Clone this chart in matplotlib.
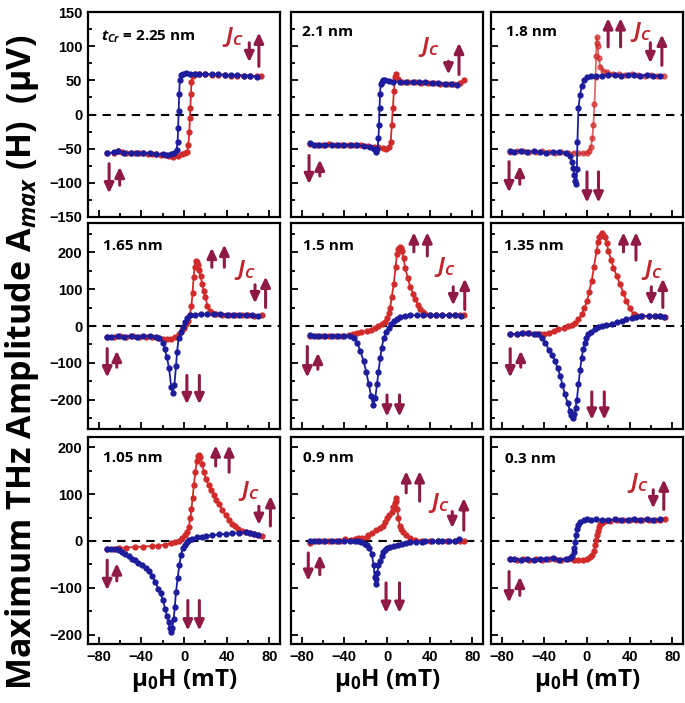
import numpy as np
import matplotlib
matplotlib.use("Agg")
import matplotlib.pyplot as plt
from matplotlib.ticker import MultipleLocator

plt.rcParams['font.family'] = ['Open Sans', 'DejaVu Sans']
plt.rcParams['mathtext.fontset'] = 'custom'
plt.rcParams['mathtext.rm'] = 'Open Sans:bold'
plt.rcParams['mathtext.it'] = 'Open Sans:italic:bold'
plt.rcParams['mathtext.bf'] = 'Open Sans:bold'

# ---- data: field (mT) and amplitude (uV); red = up sweep, blue = down sweep ----
labels = ['2.25 nm', '2.1 nm', '1.8 nm', '1.65 nm', '1.5 nm', '1.35 nm', '1.05 nm', '0.9 nm', '0.3 nm']

red_x_225 = [-72,-66,-62,-58,-54,-50,-46,-42,-38,-34,-30,-26,-22,-18,-14,-10,-6,-2,1,3,4,5,5.5,6,6.5,7,8,10,14,20,26,32,38,44,50,56,62,68,72]
red_y_225 = [-57,-56,-53,-55,-56,-57,-56,-57,-57,-58,-58,-58,-59,-59,-60,-62,-60,-58,-57,-55,-45,-25,-5,10,30,48,57,59,59,59,58,58,58,57,57,57,57,56,57]
blue_x_225 = [68,62,56,50,44,38,32,26,20,14,10,6,2,-1,-3,-4,-4.5,-5,-5.5,-6,-7,-9,-12,-16,-20,-26,-32,-38,-44,-50,-56,-62,-66,-72]
blue_y_225 = [55,57,57,58,58,58,59,59,59,60,60,60,61,60,58,50,30,5,-20,-40,-52,-57,-58,-59,-58,-58,-57,-56,-57,-56,-56,-53,-55,-57]

red_x_21 = [-72,-66,-60,-54,-48,-42,-36,-30,-24,-18,-12,-8,-4,-1,2,3.5,4.5,5.5,6.5,7.5,8.5,10,14,20,26,32,38,44,50,56,62,68,72]
red_y_21 = [-43,-45,-44,-43,-44,-45,-44,-45,-45,-46,-47,-48,-49,-50,-47,-40,-15,10,35,55,60,52,48,47,47,46,46,46,45,45,45,46,50]
blue_x_21 = [66,60,54,48,42,36,30,24,18,12,6,2,-2,-4,-5,-6,-6.5,-7,-7.5,-8,-9,-10,-12,-16,-22,-28,-34,-40,-46,-52,-58,-64,-68,-72]
blue_y_21 = [43,45,45,46,46,47,47,47,47,48,48,49,50,50,48,44,30,10,-15,-35,-50,-55,-50,-47,-46,-45,-45,-44,-45,-44,-45,-44,-45,-41]

red_x_18 = [-72,-66,-60,-54,-48,-42,-36,-30,-24,-18,-12,-8,-4,0,2,3.5,5,6,7,8,8.5,9,9.5,10,11,12.5,15,19,24,30,36,42,48,54,60,66,72]
red_y_18 = [-55,-54,-53,-55,-55,-54,-55,-56,-55,-56,-56,-57,-57,-56,-54,-48,-35,-15,15,55,85,105,113,100,82,70,64,62,60,59,58,59,58,57,58,57,57]
blue_x_18 = [68,62,56,50,44,38,32,26,20,14,8,4,0,-3,-5,-6.5,-8,-9,-9.5,-10,-11,-12,-13,-14,-16,-20,-26,-32,-38,-44,-50,-56,-62,-68,-72]
blue_y_18 = [56,57,58,57,58,58,57,58,58,57,57,56,55,50,42,28,10,-40,-80,-102,-98,-88,-78,-70,-60,-56,-55,-55,-56,-55,-54,-55,-53,-55,-54]

red_x_165 = [-72,-66,-60,-54,-48,-42,-36,-30,-24,-20,-16,-12,-8,-5,-2,0,2,4,5.5,7,8,9,10,11,12,13,14,15.5,17,18.5,20,22,24,26,30,36,42,48,54,60,66,73]
red_y_165 = [-29,-29,-28,-29,-28,-29,-29,-30,-32,-35,-35,-34,-30,-23,-12,-5,5,14,30,55,90,132,160,177,175,165,152,135,115,95,78,55,42,35,32,31,31,30,29,29,28,29]
blue_x_165 = [69,64,58,52,46,40,34,28,22,16,10,6,3,1,-1,-3,-5,-6.5,-7.5,-9,-10.5,-12,-14,-16,-18,-20,-23,-26,-32,-38,-44,-50,-56,-62,-68,-72]
blue_y_165 = [27,29,30,30,31,31,32,32,32,32,31,29,22,12,-2,-15,-32,-70,-110,-160,-182,-165,-115,-85,-62,-45,-32,-29,-28,-28,-29,-28,-29,-28,-29,-29]

red_x_15 = [-72,-66,-60,-54,-48,-42,-36,-32,-28,-24,-19,-15,-11,-8,-4.7,-2,0,1.5,3,4.5,6.3,8,9.4,10.7,12,13,14,15.5,17,19.5,22,24.5,26.6,29,31,33.5,36,40,46,52,58,64,68,72]
red_y_15 = [-27,-26,-27,-26,-27,-26,-25,-22,-18,-16,-14,-10,-5,0,5,12,23,35,50,80,114,160,195,210,215,212,205,185,159,130,105,88,73,58,45,38,32,30,29,29,30,29,29,29]
blue_x_15 = [69,64,58,52,46,40,34,28,22,17,12.5,9,6.3,4,1.6,-0.5,-3,-5,-6.3,-8,-9.4,-11,-13,-15,-17,-19.5,-22,-25,-28,-31,-34.5,-40,-46,-52,-58,-64,-68,-72]
blue_y_15 = [28,29,29,30,29,30,29,29,29,28,25,20,14,5,-5,-15,-32,-60,-86,-125,-159,-195,-214,-190,-159,-125,-95,-68,-45,-33,-27,-27,-26,-27,-26,-26,-27,-25]

red_x_135 = [-72,-66,-60,-54,-48,-44,-40,-36,-31,-27,-22,-17.6,-14,-11,-8,-5,-2.5,0,2,4.4,6.5,9,10.5,11.6,12.7,13.8,15,17,18.5,20,22.5,24.8,28,31,34,37,40,43.6,47,52,58,64,68,73]
red_y_135 = [-23,-22,-20,-18,-21,-23,-21,-18,-13,-9,-5,0,4,9,18,32,48,68,92,123,160,205,228,241,248,252,248,241,225,205,180,159,135,114,90,68,48,32,28,27,27,27,26,25]
blue_x_135 = [72,68,64,58,51,46,42,37,32.6,28,23,18,13.8,10,7.5,4,1.3,-0.5,-1.9,-3.5,-5,-6.5,-8,-9.5,-10.7,-12,-13.5,-15,-16,-18,-20.7,-23,-25,-27.5,-30,-33,-36,-39,-42.6,-46,-50,-55,-61,-66,-72]
blue_y_135 = [25,27,27,27,27,25,23,18,14,10,6,3,0,-4,-9,-15,-23,-32,-45,-62,-86,-120,-159,-200,-223,-240,-250,-242,-232,-210,-186,-160,-136,-115,-95,-78,-64,-45,-32,-23,-22,-20,-18,-21,-23]

red_x_105 = [-72,-66,-61,-54,-46,-38,-30,-24,-17.6,-12,-8,-5,-2,0.5,2.8,4.5,6,7,8,9.3,10.7,12,13,14.2,15.4,17,18.5,20.5,23,25.5,28,30,32.6,36,39,42,45,48,51,54,57.7,62,66,69,73]
red_y_105 = [-18,-17,-15,-14,-13,-12,-11,-10,-8,-5,-2,1,6,12,19,30,48,68,91,120,148,170,182,184,180,165,148,132,119,108,98,88,80,66,55,45,37,31,26,22,19,16,14,12,11]
blue_x_105 = [69.6,66,62,57.7,52,45,39,32.6,26,21,17,12,7.5,5,2.8,0.8,-1.3,-2.8,-4.4,-6,-7.5,-8.6,-9.7,-10.9,-12,-13.2,-14.4,-16,-17.6,-20,-22,-24,-27,-30,-33,-36,-39.5,-43,-46,-49,-52,-55,-58,-61,-64,-68,-72]
blue_y_105 = [12,15,18,19,17,16,15,14,12,10,9,8,5,2,-2,-8,-16,-30,-52,-80,-109,-140,-166,-185,-195,-186,-174,-160,-145,-125,-112,-102,-88,-74,-65,-58,-52,-46,-41,-38,-33,-28,-24,-20,-18,-17,-18]

red_x_09 = [-72,-66,-60,-54,-48,-44,-39.5,-34,-30,-27,-23,-19,-17.6,-14,-10,-7,-4,-2,0,2,4.4,6,7.2,8,8.8,9.6,10.7,12,13.5,15.4,18,21.6,26,32.6,40,48,56,64,68,72]
red_y_09 = [-4,-1,0,1,0,1,4,3,5,6,7,9,12,16,23,28,33,41,48,55,62,72,82,91,85,68,48,32,25,19,12,6,3,1,0,-1,0,-1,-1,-1]
blue_x_09 = [67.7,64,58,52,48,42,36,32.6,27,22,18,14,10.7,7,2.8,0,-2,-3.4,-5,-6.5,-8,-9,-10,-10.7,-11.5,-12.5,-14.4,-16.5,-18.5,-20.7,-24,-27,-30,-35,-40,-46,-52,-58,-64,-68,-72]
blue_y_09 = [4,1,0,1,-1,0,-1,-2,-3,-3,-4,-6,-9,-11,-13,-16,-20,-24,-32,-42,-52,-68,-82,-91,-78,-52,-27,-15,-9,-6,-3,0,1,0,1,0,1,0,0,1,1]

red_x_03 = [-72,-66,-60,-54,-48,-42,-36,-30,-24,-18,-12,-8,-4,0,2.5,4.7,6.3,7.8,8.6,9.4,10.2,11,12.5,14,17,22,28,34,40,46,52,58,64,68,72.7]
red_y_03 = [-39,-40,-39,-40,-39,-40,-39,-39,-40,-39,-40,-41,-40,-38,-35,-31,-22,-9,2,12,22,30,36,39,42,43,44,44,44,45,44,45,45,44,46]
blue_x_03 = [68,62,56,50,44,38,32,26,20,14,8,4,0,-3,-6.3,-8,-9.4,-10.3,-11,-11.8,-12.5,-14,-16,-20,-26,-32,-38,-44,-50,-56,-62,-68,-72]
blue_y_03 = [46,45,46,45,46,45,45,46,45,45,46,45,46,44,41,35,26,12,-2,-14,-24,-33,-37,-38,-40,-37,-39,-39,-40,-39,-40,-39,-38]

red_x = [red_x_225, red_x_21, red_x_18, red_x_165, red_x_15, red_x_135, red_x_105, red_x_09, red_x_03]
red_y = [red_y_225, red_y_21, red_y_18, red_y_165, red_y_15, red_y_135, red_y_105, red_y_09, red_y_03]
blue_x = [blue_x_225, blue_x_21, blue_x_18, blue_x_165, blue_x_15, blue_x_135, blue_x_105, blue_x_09, blue_x_03]
blue_y = [blue_y_225, blue_y_21, blue_y_18, blue_y_165, blue_y_15, blue_y_135, blue_y_105, blue_y_09, blue_y_03]

row_ylim = [(-150, 150), (-280, 280), (-220, 222)]
row_major = [50, 100, 100]
row_minor = [25, 50, 50]

RED = '#D12A2A'
BLUE = '#1C1C9C'
MAROON = '#8E1A45'
JRED = '#C0262D'

# arrow pairs and label spots per panel, in axes fraction
# (x, y_start, y_end)
arrows = [
    [(0.11, 0.26, 0.115), (0.165, 0.155, 0.245), (0.84, 0.85, 0.755), (0.89, 0.735, 0.90)],
    [(0.094, 0.30, 0.16), (0.15, 0.20, 0.28), (0.82, 0.76, 0.695), (0.875, 0.695, 0.85)],
    [(0.094, 0.27, 0.12), (0.15, 0.16, 0.25), (0.83, 0.85, 0.75), (0.89, 0.74, 0.89),
     (0.61, 0.83, 0.97), (0.675, 0.83, 0.97), (0.50, 0.22, 0.07), (0.56, 0.22, 0.07)],
    [(0.10, 0.39, 0.25), (0.15, 0.30, 0.38), (0.87, 0.70, 0.61), (0.925, 0.59, 0.74),
     (0.645, 0.785, 0.88), (0.71, 0.785, 0.895), (0.515, 0.26, 0.12), (0.58, 0.26, 0.12)],
    [(0.085, 0.40, 0.25), (0.14, 0.29, 0.37), (0.845, 0.69, 0.60), (0.905, 0.58, 0.73),
     (0.64, 0.86, 0.955), (0.71, 0.84, 0.955), (0.50, 0.165, 0.06), (0.565, 0.165, 0.06)],
    [(0.10, 0.39, 0.25), (0.155, 0.30, 0.38), (0.835, 0.69, 0.60), (0.895, 0.59, 0.73),
     (0.69, 0.86, 0.955), (0.755, 0.82, 0.955), (0.525, 0.18, 0.045), (0.59, 0.18, 0.045)],
    [(0.10, 0.405, 0.26), (0.15, 0.305, 0.39), (0.89, 0.665, 0.575), (0.95, 0.57, 0.715),
     (0.665, 0.86, 0.96), (0.735, 0.83, 0.96), (0.52, 0.21, 0.065), (0.58, 0.21, 0.065)],
    [(0.09, 0.44, 0.305), (0.15, 0.335, 0.43), (0.84, 0.64, 0.56), (0.90, 0.55, 0.705),
     (0.60, 0.73, 0.835), (0.67, 0.69, 0.835), (0.495, 0.295, 0.15), (0.565, 0.295, 0.15)],
    [(0.094, 0.35, 0.20), (0.15, 0.235, 0.325), (0.845, 0.745, 0.655), (0.90, 0.65, 0.795)],
]
label_pos = [(0.07, 0.88), (0.056, 0.90), (0.077, 0.90), (0.078, 0.89), (0.06, 0.89),
             (0.07, 0.89), (0.078, 0.90), (0.063, 0.90), (0.073, 0.895)]
jc_pos = [(0.70, 0.88), (0.66, 0.83), (0.725, 0.90), (0.76, 0.77), (0.745, 0.785),
          (0.78, 0.77), (0.78, 0.74), (0.715, 0.68), (0.71, 0.78)]

fig = plt.figure(figsize=(6.85, 7.03), dpi=100)
W, H = 685.0, 703.0
col_left = [88, 291, 491]
col_w = 192
row_top = [12, 223, 437]
row_h = [205, 206, 207]

tickfont = dict(family='Liberation Sans', weight='bold', size=10.5)

for i in range(9):
    r, c = divmod(i, 3)
    ax = fig.add_axes([col_left[c] / W, 1 - (row_top[r] + row_h[r]) / H, col_w / W, row_h[r] / H])
    ax.axhline(0, color='black', ls=(0, (4, 3)), lw=1.5, zorder=1)
    alpha_r = 0.7 if i == 2 else 1.0
    ax.plot(red_x[i], red_y[i], '-o', color=RED, ms=3.5, lw=1.3, alpha=alpha_r, zorder=2)
    ax.plot(blue_x[i], blue_y[i], '-o', color=BLUE, ms=3.5, lw=1.3, zorder=3)
    ax.set_xlim(-90, 90)
    ax.set_ylim(*row_ylim[r])
    ax.xaxis.set_major_locator(MultipleLocator(40))
    ax.xaxis.set_minor_locator(MultipleLocator(20))
    ax.yaxis.set_major_locator(MultipleLocator(row_major[r]))
    ax.yaxis.set_minor_locator(MultipleLocator(row_minor[r]))
    ax.tick_params(which='both', direction='in', width=1.3, top=False, right=False)
    ax.tick_params(which='major', length=5)
    ax.tick_params(which='minor', length=3)
    ax.tick_params(labelleft=(c == 0), labelbottom=(r == 2), pad=4)
    for lab in ax.get_xticklabels() + ax.get_yticklabels():
        lab.set_fontproperties(tickfont)
    for s in ax.spines.values():
        s.set_linewidth(1.6)

    txt = labels[i]
    if i == 0:
        txt = r'$t_{Cr}$ = ' + txt
    ax.text(label_pos[i][0], label_pos[i][1], txt, transform=ax.transAxes,
            fontsize=11, fontweight='bold', ha='left', va='center')
    ax.text(jc_pos[i][0], jc_pos[i][1], r'$J_C$', transform=ax.transAxes,
            fontsize=15, color=JRED, ha='left', va='center')
    for (ax_x, y0, y1) in arrows[i]:
        ax.annotate('', xy=(ax_x, y1), xytext=(ax_x, y0), xycoords='axes fraction',
                    arrowprops=dict(arrowstyle='-|>,head_length=0.6,head_width=0.28',
                                    lw=2.2, color=MAROON, shrinkA=0, shrinkB=0,
                                    mutation_scale=10))

for c in range(3):
    xc = (col_left[c] + col_w / 2) / W
    fig.text(xc, 1 - 680 / H, r'μ$_0$H (mT)', fontsize=17.5, fontweight='bold',
             ha='center', va='center')

fig.text(0.032, 1 - 362 / H, r'Maximum THz Amplitude A$_{max}$ (H)  (μV)',
         rotation=90, fontsize=24.5, fontweight='bold', ha='center', va='center')

fig.savefig('out.png', dpi=100)
